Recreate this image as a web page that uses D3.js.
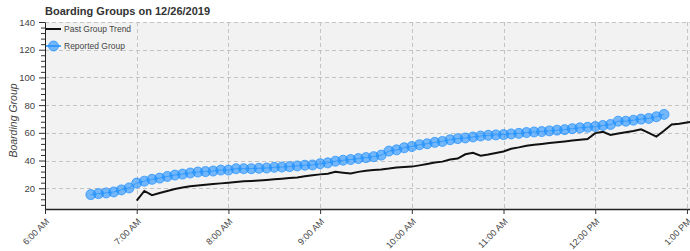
<!DOCTYPE html>
<html>
<head>
<meta charset="utf-8">
<script src="https://cdn.jsdelivr.net/npm/d3@7"></script>
<style>
  body { margin: 0; background: #fff; }
  text { font-family: "Liberation Sans", Arial, Helvetica, sans-serif; }
</style>
</head>
<body>
<svg width="690" height="251"></svg>
<script>
const day = "2019-12-26";

const reportedTimes = [
  "6:30","6:35","6:40","6:45","6:50","6:55",
  "7:00","7:05","7:10","7:15","7:20","7:25","7:30","7:35","7:40","7:45","7:50","7:55",
  "8:00","8:05","8:10","8:15","8:20","8:25","8:30","8:35","8:40","8:45","8:50","8:55",
  "9:00","9:05","9:10","9:15","9:20","9:25","9:30","9:35","9:40","9:45","9:50","9:55",
  "10:00","10:05","10:10","10:15","10:20","10:25","10:30","10:35","10:40","10:45","10:50","10:55",
  "11:00","11:05","11:10","11:15","11:20","11:25","11:30","11:35","11:40","11:45","11:50","11:55",
  "12:00","12:05","12:10","12:15","12:20","12:25","12:30","12:35","12:40","12:45"
];
const reportedGroups = [
  15.4, 16.1, 16.6, 17.3, 18.8, 20.2,
  23.7, 25.1, 26.4, 27.3, 28.5, 29.5, 30.2, 31, 31.7, 32, 32.4, 33.1,
  33.1, 34.1, 34.1, 34.1, 34.4, 34.6, 35.1, 35.3, 35.6, 36.1, 36.6, 36.8,
  37.7, 38.3, 39.5, 40.2, 40.7, 41.4, 42.1, 42.8, 43.9, 46.8, 47.7, 49.2,
  50.1, 51.4, 52.1, 53.1, 53.8, 55, 55.8, 56.3, 57, 57.7, 58.2, 58.5,
  58.7, 59.2, 59.6, 60.2, 60.6, 60.9, 61.4, 61.9, 62.3, 63, 63.6, 64,
  64.5, 65.3, 66, 68.4, 68.4, 69.1, 69.9, 70.4, 71.6, 73.3
];

const trendTimes = [
  "7:00","7:05","7:10","7:15","7:20","7:25","7:30","7:35","7:40","7:45","7:50","7:55",
  "8:00","8:05","8:10","8:15","8:20","8:25","8:30","8:35","8:40","8:45","8:50","8:55",
  "9:00","9:05","9:10","9:15","9:20","9:25","9:30","9:35","9:40","9:45","9:50","9:55",
  "10:00","10:05","10:10","10:15","10:20","10:25","10:30","10:35","10:40","10:45","10:50","10:55",
  "11:00","11:05","11:10","11:15","11:20","11:25","11:30","11:35","11:40","11:45","11:50","11:55",
  "12:00","12:05","12:10","12:15","12:20","12:25","12:30","12:35","12:40","12:45","12:50","12:55",
  "13:00","13:05"
];
const trendGroups = [
  11, 18, 15, 16.5, 18, 19.5, 20.5, 21.5, 22, 22.5, 23, 23.5,
  24, 24.5, 25, 25.3, 25.6, 26, 26.4, 26.8, 27.3, 27.8, 28.6, 29.3,
  30, 30.5, 31.8, 31.2, 30.7, 31.8, 32.6, 33.2, 33.6, 34.2, 35, 35.3,
  35.6, 36.5, 37.5, 38.5, 39.2, 40.7, 41.4, 44.5, 45.6, 43.5, 44.3, 45.5,
  46.5, 48.5, 49.5, 50.7, 51.3, 52, 52.6, 53.2, 53.8, 54.4, 55, 55.5,
  59.8, 60.8, 58.5, 59.5, 60.4, 61.3, 62.5, 60, 57.3, 61.5, 66, 66.5,
  67.5, 68.2
];

const xTicks = ["6:00","7:00","8:00","9:00","10:00","11:00","12:00","13:00"];
const yTicks = [20, 40, 60, 80, 100, 120, 140];
const xRange = ["6:00","13:02"];
const yRange = [5, 140];

const parse = d3.timeParse("%Y-%m-%d %H:%M");
const t = s => parse(day + " " + s);

const reported = reportedTimes.map((s, i) => ({ time: t(s), group: reportedGroups[i] }));
const trend = trendTimes.map((s, i) => ({ time: t(s), group: trendGroups[i] }));

const svg = d3.select("svg");
const plotLeft = 45, plotRight = 690, plotTop = 22, plotBottom = 209;

const x = d3.scaleTime().domain(xRange.map(t)).range([plotLeft, plotRight]);
const y = d3.scaleLinear().domain(yRange).range([plotBottom, plotTop]);

svg.append("rect")
  .attr("x", plotLeft).attr("y", plotTop)
  .attr("width", plotRight - plotLeft).attr("height", plotBottom - plotTop)
  .attr("fill", "#f2f2f2");

svg.append("defs").append("clipPath").attr("id", "plot")
  .append("rect")
  .attr("x", plotLeft).attr("y", plotTop - 6)
  .attr("width", plotRight - plotLeft).attr("height", plotBottom - plotTop + 6);

// grid
const grid = svg.append("g")
  .attr("stroke", "#c4c4c4")
  .attr("stroke-dasharray", "4,3");

grid.selectAll("line.h")
  .data(yTicks)
  .join("line")
  .attr("class", "h")
  .attr("x1", plotLeft).attr("x2", plotRight)
  .attr("y1", d => Math.round(y(d)) + 0.5)
  .attr("y2", d => Math.round(y(d)) + 0.5);

grid.selectAll("line.v")
  .data(xTicks.slice(1).map(t))
  .join("line")
  .attr("class", "v")
  .attr("y1", plotTop).attr("y2", plotBottom)
  .attr("x1", d => Math.round(x(d)) + 0.5)
  .attr("x2", d => Math.round(x(d)) + 0.5);

const plot = svg.append("g").attr("clip-path", "url(#plot)");

plot.append("path")
  .datum(trend)
  .attr("fill", "none")
  .attr("stroke", "#111")
  .attr("stroke-width", 2)
  .attr("d", d3.line().x(d => x(d.time)).y(d => y(d.group)));

plot.append("path")
  .datum(reported)
  .attr("fill", "none")
  .attr("stroke", "#1e90ff")
  .attr("stroke-width", 1)
  .attr("stroke-opacity", 0.7)
  .attr("d", d3.line().x(d => x(d.time)).y(d => y(d.group)));

plot.append("g")
  .selectAll("circle")
  .data(reported)
  .join("circle")
  .attr("cx", d => x(d.time))
  .attr("cy", d => y(d.group))
  .attr("r", 5)
  .attr("fill", "#1e90ff")
  .attr("fill-opacity", 0.6)
  .attr("stroke", "#1e90ff")
  .attr("stroke-opacity", 0.7);

// axes
const yMinor = d3.range(yRange[0], yRange[1] + 1).filter(v => v % 4 === 0 && v % 20 !== 0);

svg.append("g")
  .attr("transform", `translate(${plotLeft},0)`)
  .call(d3.axisLeft(y).tickValues(yMinor).tickSize(4).tickFormat(""))
  .call(g => g.select(".domain").remove())
  .call(g => g.selectAll("line").attr("stroke", "#333"));

svg.append("g")
  .attr("transform", `translate(${plotLeft},0)`)
  .call(d3.axisLeft(y).tickValues(yTicks).tickSize(6).tickPadding(4).tickSizeOuter(0))
  .call(g => g.select(".domain").attr("stroke", "#222"))
  .call(g => g.selectAll("line").attr("stroke", "#333"))
  .call(g => g.selectAll("text")
    .attr("fill", "#444")
    .style("font-size", "9.5px"));

svg.append("g")
  .attr("transform", `translate(0,${plotBottom})`)
  .call(d3.axisBottom(x).tickValues(xTicks.map(t)).tickSize(5).tickSizeOuter(0)
    .tickFormat(d3.timeFormat("%-I:%M %p")))
  .call(g => g.select(".domain").attr("stroke", "#222").attr("stroke-width", 1.5))
  .call(g => g.selectAll("line").attr("stroke", "#333"))
  .call(g => g.selectAll("text")
    .attr("fill", "#444")
    .style("font-size", "9px")
    .attr("x", 0).attr("y", 0).attr("dy", "0.35em")
    .attr("text-anchor", "end")
    .attr("transform", "translate(2,11) rotate(-45)"));

// title and labels
svg.append("text")
  .attr("x", plotLeft).attr("y", 15)
  .attr("fill", "#333")
  .style("font-size", "11px")
  .style("font-weight", "bold")
  .text("Boarding Groups on 12/26/2019");

svg.append("text")
  .attr("transform", `translate(17,${(plotTop + plotBottom) / 2 + 5}) rotate(-90)`)
  .attr("text-anchor", "middle")
  .attr("fill", "#444")
  .style("font-size", "10.5px")
  .style("font-style", "italic")
  .text("Boarding Group");

// legend
const legend = svg.append("g");

legend.append("line")
  .attr("x1", 46).attr("x2", 61)
  .attr("y1", 29).attr("y2", 29)
  .attr("stroke", "#111").attr("stroke-width", 2);
legend.append("text")
  .attr("x", 64).attr("y", 29).attr("dy", "0.35em")
  .attr("fill", "#444").style("font-size", "8.5px")
  .text("Past Group Trend");

legend.append("line")
  .attr("x1", 46).attr("x2", 61)
  .attr("y1", 46).attr("y2", 46)
  .attr("stroke", "#1e90ff").attr("stroke-width", 1.5);
legend.append("circle")
  .attr("cx", 53.5).attr("cy", 46).attr("r", 5)
  .attr("fill", "#1e90ff").attr("fill-opacity", 0.6)
  .attr("stroke", "#1e90ff").attr("stroke-opacity", 0.7);
legend.append("text")
  .attr("x", 64).attr("y", 46).attr("dy", "0.35em")
  .attr("fill", "#444").style("font-size", "8.5px")
  .text("Reported Group");
</script>
</body>
</html>
